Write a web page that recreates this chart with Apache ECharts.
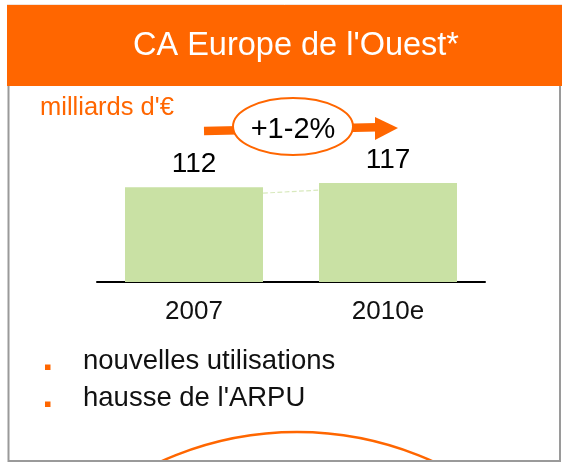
<!DOCTYPE html>
<html>
<head>
<meta charset="utf-8">
<script src="https://cdn.jsdelivr.net/npm/echarts@6/dist/echarts.min.js"></script>
<style>
  html, body { margin: 0; padding: 0; background: #fff; }
  #chart { width: 562px; height: 462px; }
</style>
</head>
<body>
<div id="chart"></div>
<script>
// chart values
const title = "CA Europe de l'Ouest*"
const unitLabel = "milliards d'€"
const categories = ['2007', '2010e']
const revenue = [112, 117]
const growthLabel = '+1-2%'
const bullets = ['nouvelles utilisations', "hausse de l'ARPU"]
// faint dashed connector between the two bars (x in category units, y in value units)
const connectorX = [0.356, 0.644]
const connectorY = [105, 108.6]

const ORANGE = '#ff6600'
const FONT = '"Liberation Sans", Arial, Helvetica, sans-serif'

const chart = echarts.init(document.getElementById('chart'), null, { renderer: 'canvas' })

function buildGraphic() {
  const els = [
    // frame
    { type: 'line', shape: { x1: 7, y1: 4.5, x2: 562, y2: 4.5 }, style: { stroke: '#f1e4dc', lineWidth: 1 } },
    { type: 'line', shape: { x1: 8.5, y1: 86, x2: 8.5, y2: 462 }, style: { stroke: '#9a9a9a', lineWidth: 2 } },
    { type: 'line', shape: { x1: 560, y1: 86, x2: 560, y2: 462 }, style: { stroke: '#9a9a9a', lineWidth: 2 } },
    { type: 'line', shape: { x1: 8, y1: 461, x2: 561, y2: 461 }, style: { stroke: '#9a9a9a', lineWidth: 2 }, z: 20 },
    // header
    { type: 'rect', shape: { x: 7, y: 5, width: 555, height: 81 }, style: { fill: ORANGE } },
    {
      type: 'text', x: 296, y: 46.5,
      style: { text: title, fill: '#fff', fontSize: 32.5, fontFamily: FONT, align: 'center', verticalAlign: 'middle' }
    },
    {
      type: 'text', x: 40, y: 108,
      style: { text: unitLabel, fill: ORANGE, fontSize: 25.5, fontFamily: FONT, align: 'left', verticalAlign: 'middle' }
    },
    // growth arrow
    { type: 'line', shape: { x1: 204, y1: 131, x2: 377, y2: 127.3 }, style: { stroke: ORANGE, lineWidth: 8.5 }, z: 5 },
    { type: 'polygon', shape: { points: [[375, 117], [398, 128], [375, 140]] }, style: { fill: ORANGE }, z: 5 },
    {
      type: 'ellipse', shape: { cx: 293, cy: 126.5, rx: 60, ry: 28.5 },
      style: { fill: '#fff', stroke: ORANGE, lineWidth: 2 }, z: 6
    },
    {
      type: 'text', x: 293, y: 130, z: 7,
      style: { text: growthLabel, fill: '#000', fontSize: 29, fontFamily: FONT, align: 'center', verticalAlign: 'middle' }
    },
    // bottom arc
    {
      type: 'circle', shape: { cx: 297, cy: 761, r: 329 },
      style: { fill: 'none', stroke: ORANGE, lineWidth: 2.5 }, z: 4
    }
  ]
  bullets.forEach((b, i) => {
    const y = 361 + i * 37
    els.push({ type: 'rect', shape: { x: 45, y: y + 3.5, width: 5.5, height: 5.5 }, style: { fill: ORANGE } })
    els.push({
      type: 'text', x: 83, y: y,
      style: { text: b, fill: '#111', fontSize: 27.5, fontFamily: FONT, align: 'left', verticalAlign: 'middle' }
    })
  })
  return els
}

function buildOption() {
  return {
    animation: false,
    grid: { left: 97, width: 388, top: 172, height: 110 },
    xAxis: [{
      type: 'category', data: categories,
      axisLine: { lineStyle: { color: '#000', width: 2 } },
      axisTick: { show: false }, splitLine: { show: false },
      axisLabel: { color: '#111', fontSize: 26, fontFamily: FONT, margin: 17 }
    }, {
      type: 'value', min: -0.5, max: 1.5, show: false
    }],
    yAxis: [{ type: 'value', min: 0, max: 130, show: false }],
    series: [
      {
        name: 'CA', type: 'bar', data: revenue, barWidth: 138,
        itemStyle: { color: '#c9e1a4' },
        label: { show: true, position: 'top', distance: 9, color: '#000', fontSize: 28, fontFamily: FONT }
      },
      {
        name: 'connector', type: 'line', xAxisIndex: 1, silent: true,
        data: connectorX.map((x, i) => [x, connectorY[i]]),
        symbol: 'none', lineStyle: { color: '#d8e9bd', width: 1.2, type: 'dashed' }
      }
    ],
    graphic: buildGraphic()
  }
}

chart.setOption(buildOption())
window.addEventListener('resize', () => chart.resize())
</script>
</body>
</html>
